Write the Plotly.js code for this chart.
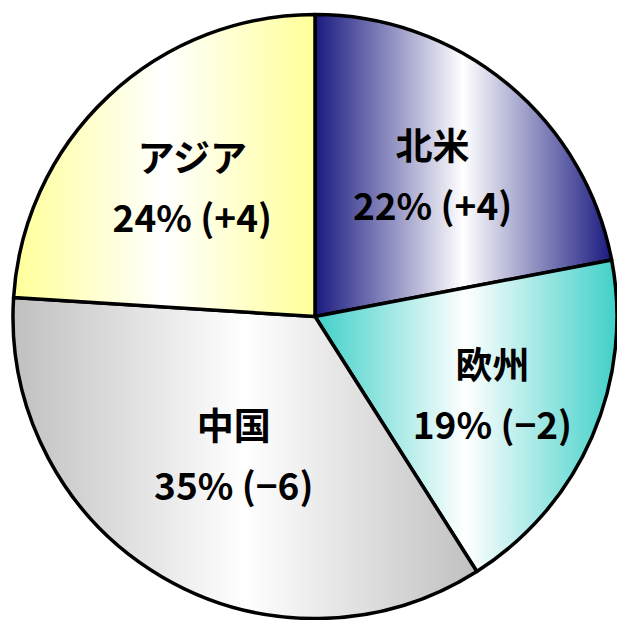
<!DOCTYPE html>
<html>
<head>
<meta charset="utf-8">
<script src="https://cdn.plot.ly/plotly-3.0.1.min.js"></script>
<style>
html,body{margin:0;padding:0;background:#fff;}
#chart{width:617px;height:620px;}
</style>
</head>
<body>
<div id="chart"></div>
<script>
const regions = ['北米', '欧州', '中国', 'アジア'];
const shares = [22, 19, 35, 24];
const changes = ['+4', '−2', '−6', '+4'];
const edgeColors = ['#1a1a80', '#40d0c8', '#c0c0c0', '#ffff99'];

const trace = {
  type: 'pie',
  labels: regions,
  values: shares,
  customdata: changes,
  sort: false,
  direction: 'clockwise',
  rotation: 0,
  texttemplate: '%{label}<br>%{value}% (%{customdata})',
  textinfo: 'text',
  textposition: 'inside',
  insidetextorientation: 'horizontal',
  textfont: {family: 'Noto Sans CJK JP, sans-serif', size: 37, color: '#000', weight: 'bold'},
  marker: {colors: edgeColors, line: {color: '#000', width: 3.5}},
  hoverinfo: 'none'
};

const layout = {
  width: 617, height: 620,
  margin: {l: 13, r: 0, t: 13, b: 0},
  showlegend: false,
  paper_bgcolor: '#fff'
};

Plotly.newPlot('chart', [trace], layout, {displayModeBar: false, staticPlot: true}).then(function(gd){
  const svg = gd.querySelector('svg.main-svg');
  let defs = svg.querySelector('defs');
  const ns = 'http://www.w3.org/2000/svg';
  edgeColors.forEach(function(c, i){
    const lg = document.createElementNS(ns, 'linearGradient');
    lg.setAttribute('id', 'grad' + i);
    lg.setAttribute('x1', '0'); lg.setAttribute('y1', '0');
    lg.setAttribute('x2', '1'); lg.setAttribute('y2', '0');
    [[0, c], [0.5, '#ffffff'], [1, c]].forEach(function(s){
      const st = document.createElementNS(ns, 'stop');
      st.setAttribute('offset', s[0]);
      st.setAttribute('stop-color', s[1]);
      lg.appendChild(st);
    });
    defs.appendChild(lg);
  });
  gd.querySelectorAll('g.slice').forEach(function(g, i){
    const p = g.querySelector('path.surface');
    if (p) p.style.fill = 'url(#grad' + i + ')';
    // widen the gap between the two text lines, symmetric about the block centre
    const lines = g.querySelectorAll('text.slicetext tspan.line');
    if (lines.length === 2) {
      lines[0].setAttribute('dy', '-0.16em');
      lines[1].setAttribute('dy', '1.46em');
    }
  });
});
</script>
</body>
</html>
